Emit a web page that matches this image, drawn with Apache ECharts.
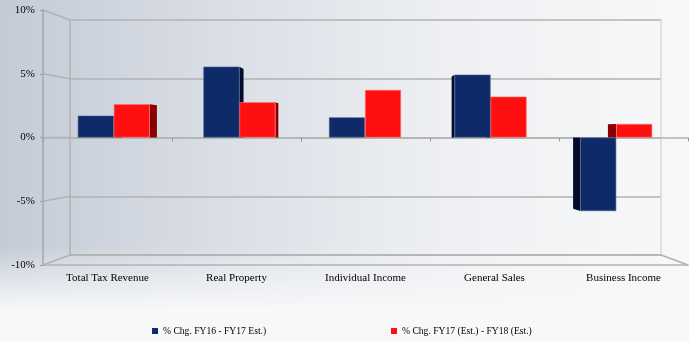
<!DOCTYPE html>
<html>
<head>
<meta charset="utf-8">
<script src="https://cdn.jsdelivr.net/npm/echarts@6/dist/echarts.min.js"></script>
<style>
html,body{margin:0;padding:0;}
body{width:689px;height:341px;overflow:hidden;
background:linear-gradient(to bottom, rgba(247,248,249,0) 0%, rgba(247,248,249,0) 72%, rgba(247,248,249,1) 91%),
linear-gradient(to right, #c4cbd7 0%, #dce0e7 35%, #eef0f3 65%, #f7f8f9 100%);}
#c{width:689px;height:341px;}
</style>
</head>
<body>
<div id="c"></div>
<script>
var categories = ['Total Tax Revenue','Real Property','Individual Income','General Sales','Business Income'];
var seriesNames = ['% Chg. FY16 - FY17 Est.)','% Chg. FY17 (Est.) - FY18 (Est.)'];
var chgFY16FY17 = [1.75, 5.69, 1.62, 5.05, -5.91];
var chgFY17FY18 = [2.67, 2.83, 3.82, 3.28, 1.09];
var yTicks = [-10, -5, 0, 5, 10];

var chart = echarts.init(document.getElementById('c'), null, {renderer:'canvas'});
var lineCol = '#b2b2b2';
var font = '"Liberation Serif", "Times New Roman", serif';
var BAR_W = 36;
var DEPTH_K = 0.033;
var sideColors = ['#020c2c', '#8a0000'];

var sideData = [];
chgFY16FY17.forEach(function(v,i){ sideData.push([i, v, 0]); });
chgFY17FY18.forEach(function(v,i){ sideData.push([i, v, 1]); });

function renderSide(params, api){
  var cat = api.value(0), val = api.value(1), si = api.value(2);
  var base = api.coord([cat, 0]);
  var top = api.coord([cat, val]);
  var x0 = base[0] + (si === 0 ? -BAR_W : 0);
  var x1 = x0 + BAR_W;
  var cs = params.coordSys;
  var cx = cs.x + cs.width / 2;
  var edge = (x0 + x1) / 2 < cx ? x1 : x0;
  var d = (cx - edge) * DEPTH_K;
  var f = 1 - DEPTH_K * 0.95;
  var yb = base[1] + (top[1] - base[1]) * f;
  return {
    type:'polygon',
    shape:{points:[[edge, base[1]], [edge, top[1]], [edge + d, yb], [edge + d, base[1]]]},
    style:{fill: sideColors[si]}
  };
}

var option = {
  animation:false,
  backgroundColor:'transparent',
  textStyle:{fontFamily:font},
  grid:[
    {left:43, right:1, top:10, bottom:76},
    {left:70, right:28, top:20, bottom:86},
    {left:51, right:10, top:13, bottom:79}
  ],
  xAxis:[
    {type:'category', gridIndex:0, data:categories,
     axisLine:{show:true, onZero:false, lineStyle:{color:lineCol, width:1.5}},
     axisTick:{show:false},
     axisLabel:{fontFamily:font, fontSize:11, color:'#000', margin:8}},
    {type:'category', gridIndex:0, data:categories, position:'bottom',
     axisLine:{show:true, onZero:true, lineStyle:{color:lineCol, width:1.5}},
     axisTick:{show:true, length:4, lineStyle:{color:'#999'}},
     axisLabel:{show:false}},
    {type:'category', gridIndex:1, data:categories,
     axisLine:{show:true, onZero:false, lineStyle:{color:lineCol, width:1.5}},
     axisTick:{show:false}, axisLabel:{show:false}},
    {type:'category', gridIndex:2, data:categories, show:false}
  ],
  yAxis:[
    {type:'value', gridIndex:0, min:-10, max:10, interval:5,
     axisLine:{show:true, lineStyle:{color:'#a6a6a6', width:1.5}},
     axisTick:{show:true, length:3, lineStyle:{color:'#999'}},
     splitLine:{show:false},
     axisLabel:{formatter:function(v){return v+'%';}, fontFamily:font, fontSize:11, color:'#000', margin:8}},
    {type:'value', gridIndex:1, min:-10, max:10, interval:5,
     axisLine:{show:true, lineStyle:{color:lineCol, width:1.5}},
     axisTick:{show:false}, axisLabel:{show:false},
     splitLine:{show:true, lineStyle:{color:lineCol, width:1.5}}},
    {type:'value', gridIndex:1, position:'right', min:-10, max:10, interval:5,
     axisLine:{show:true, lineStyle:{color:'#d8d8d8', width:1.5}},
     axisTick:{show:false}, axisLabel:{show:false}, splitLine:{show:false}},
    {type:'value', gridIndex:2, min:-10, max:10, interval:5, show:false, splitLine:{show:false}}
  ],
  legend:[
    {data:[seriesNames[0]], left:147, top:321, itemWidth:6, itemHeight:6, itemGap:4,
     itemStyle:{borderWidth:0},
     textStyle:{fontFamily:font, fontSize:9.6, color:'#000'}, icon:'rect'},
    {data:[seriesNames[1]], left:386, top:321, itemWidth:6, itemHeight:6, itemGap:4,
     itemStyle:{borderWidth:0},
     textStyle:{fontFamily:font, fontSize:9.6, color:'#000'}, icon:'rect'}
  ],
  series:[
    {type:'custom', xAxisIndex:3, yAxisIndex:3, data:sideData, renderItem:renderSide, z:1, silent:true},
    {name:seriesNames[0], type:'bar', xAxisIndex:3, yAxisIndex:3, data:chgFY16FY17,
     barWidth:BAR_W, barGap:'0%', z:3,
     itemStyle:{color:'#0e2a68', borderColor:'#4a5f8e', borderWidth:0.6}},
    {name:seriesNames[1], type:'bar', xAxisIndex:3, yAxisIndex:3, data:chgFY17FY18,
     barWidth:BAR_W, barGap:'0%', z:3,
     itemStyle:{color:'#ff0f0f', borderColor:'#ff7070', borderWidth:0.6}}
  ]
};
chart.setOption(option);

// 3D wall connectors between front axis ticks and back wall gridlines
var r0 = chart.getModel().getComponent('grid',0).coordinateSystem.getRect();
var r1 = chart.getModel().getComponent('grid',1).coordinateSystem.getRect();
var elements = [];
yTicks.forEach(function(v){
  var f = chart.convertToPixel({xAxisIndex:0, yAxisIndex:0}, [0, v]);
  var b = chart.convertToPixel({xAxisIndex:2, yAxisIndex:1}, [0, v]);
  elements.push({type:'line', shape:{x1:r0.x, y1:f[1], x2:r1.x, y2:b[1]},
    style:{stroke:lineCol, lineWidth:1.5}, z:1});
});
var fb = chart.convertToPixel({xAxisIndex:0, yAxisIndex:0}, [0, -10]);
var bb = chart.convertToPixel({xAxisIndex:2, yAxisIndex:1}, [0, -10]);
elements.push({type:'line', shape:{x1:r1.x + r1.width, y1:bb[1], x2:r0.x + r0.width, y2:fb[1]},
  style:{stroke:lineCol, lineWidth:1.5}, z:1});
chart.setOption({graphic:elements});
</script>
</body>
</html>
